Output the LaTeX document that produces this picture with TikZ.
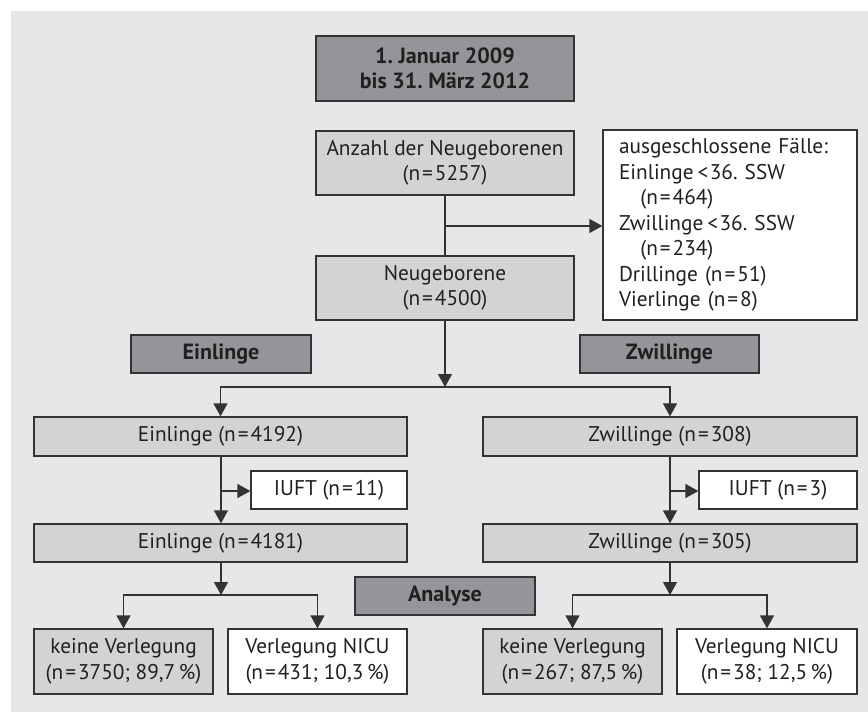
\documentclass[tikz,border=0pt]{standalone}
\usepackage{fontspec}
\setmainfont{PT Sans}
\usetikzlibrary{arrows.meta}
\definecolor{panelgray}{HTML}{E6E7E8}
\definecolor{boxdark}{HTML}{939598}
\definecolor{boxlight}{HTML}{D2D3D5}
\definecolor{linegray}{HTML}{333333}
\definecolor{textblack}{HTML}{231F20}
\newcommand{\eq}{\kern2pt=\kern2pt}
\frenchspacing
\begin{document}
\begin{tikzpicture}[x=1pt,y=-1pt,
    >={Triangle[length=13pt,width=14pt]},
    color=linegray,line width=1.3pt,
    box/.style={draw=linegray,line width=1.3pt,inner sep=0pt,align=center,
      text=textblack,font=\fontsize{21.3}{25.5}\selectfont},
    darkbox/.style={box,fill=boxdark,minimum height=38pt,
      font=\fontsize{22}{25}\selectfont\bfseries},
    lightbox/.style={box,fill=boxlight},
    whitebox/.style={box,fill=white}]
    \useasboundingbox (0,0) rectangle (868,712);
    \fill[panelgray] (11,11) rectangle (868,712);
    % top
    \node[darkbox,minimum width=258pt,minimum height=65pt] (A0_0) at (445,68.5)
      {1. Januar 2009\\bis 31. März 2012};
    \node[lightbox,minimum width=258pt,minimum height=64pt] (A1_0) at (445,163)
      {Anzahl der Neugeborenen\\(n\eq5257)};
    \node[whitebox,align=left,text width=222pt,inner xsep=16pt,minimum height=190pt] (A1_1) at (730,225)
      {ausgeschlossene Fälle:\\
       Einlinge\kern4pt<\kern1.5pt36. SSW\\
       \hspace*{1em}(n\eq464)\\
       Zwillinge\kern4pt<\kern1.5pt36. SSW\\
       \hspace*{1em}(n\eq234)\\
       Drillinge (n\eq51)\\
       Vierlinge (n\eq8)};
    \node[lightbox,minimum width=258pt,minimum height=64pt] (A2_0) at (445,288)
      {Neugeborene\\(n\eq4500)};
    % groups
    \node[darkbox,minimum width=180pt] (A3_0) at (221,354) {Einlinge};
    \node[darkbox,minimum width=179pt] (A3_1) at (669.5,354) {Zwillinge};
    \node[lightbox,minimum width=373pt,minimum height=39pt] (A4_0) at (220.5,436.5)
      {Einlinge (n\eq4192)};
    \node[lightbox,minimum width=374pt,minimum height=39pt] (A4_1) at (670,436.5)
      {Zwillinge (n\eq308)};
    \node[whitebox,minimum width=156pt,minimum height=38pt] (A5_0) at (329,490)
      {IUFT (n\eq11)};
    \node[whitebox,minimum width=158pt,minimum height=38pt] (A5_1) at (778,490)
      {IUFT (n\eq3)};
    \node[lightbox,minimum width=373pt,minimum height=38pt] (A6_0) at (220.5,543)
      {Einlinge (n\eq4181)};
    \node[lightbox,minimum width=374pt,minimum height=38pt] (A6_1) at (670,543)
      {Zwillinge (n\eq305)};
    \node[darkbox,minimum width=180pt] (A7_0) at (445,596) {Analyse};
    % results
    \node[lightbox,minimum width=179pt,minimum height=65pt] (A8_0) at (123.5,661.5)
      {keine Verlegung\\(n\eq3750; 89,7\,\%)};
    \node[whitebox,minimum width=179pt,minimum height=65pt] (A8_1) at (317.5,661.5)
      {Verlegung NICU\\(n\eq431; 10,3\,\%)};
    \node[lightbox,minimum width=179pt,minimum height=65pt] (A8_2) at (572.5,661.5)
      {keine Verlegung\\(n\eq267; 87,5\,\%)};
    \node[whitebox,minimum width=180pt,minimum height=65pt] (A8_3) at (767,661.5)
      {Verlegung NICU\\(n\eq38; 12,5\,\%)};
    % junctions
    \coordinate (B0) at (445,226);
    \coordinate (B1) at (445,387);
    \coordinate (B2) at (221,491);
    \coordinate (B3) at (670,491);
    \coordinate (B4) at (221,595);
    \coordinate (B5) at (670,595);
    % connectors
    \draw (A1_0) -- (A2_0);
    \draw[->] (B0) -- (A1_1.west |- B0);
    \draw[->] (A2_0) -- (B1);
    \draw[->] (B1) -| (A4_0);
    \draw[->] (B1) -| (A4_1);
    \draw[->] (A4_0.south -| B2) -- (A6_0.north -| B2);
    \draw[->] (B2) -- (A5_0.west |- B2);
    \draw[->] (A4_1.south -| B3) -- (A6_1.north -| B3);
    \draw[->] (B3) -- (A5_1.west |- B3);
    \draw[->] (A6_0.south -| B4) -- (B4);
    \draw[->] (B4) -| (A8_0);
    \draw[->] (B4) -| (A8_1);
    \draw[->] (A6_1.south -| B5) -- (B5);
    \draw[->] (B5) -| (A8_2);
    \draw[->] (B5) -| (A8_3);
\end{tikzpicture}
\end{document}
